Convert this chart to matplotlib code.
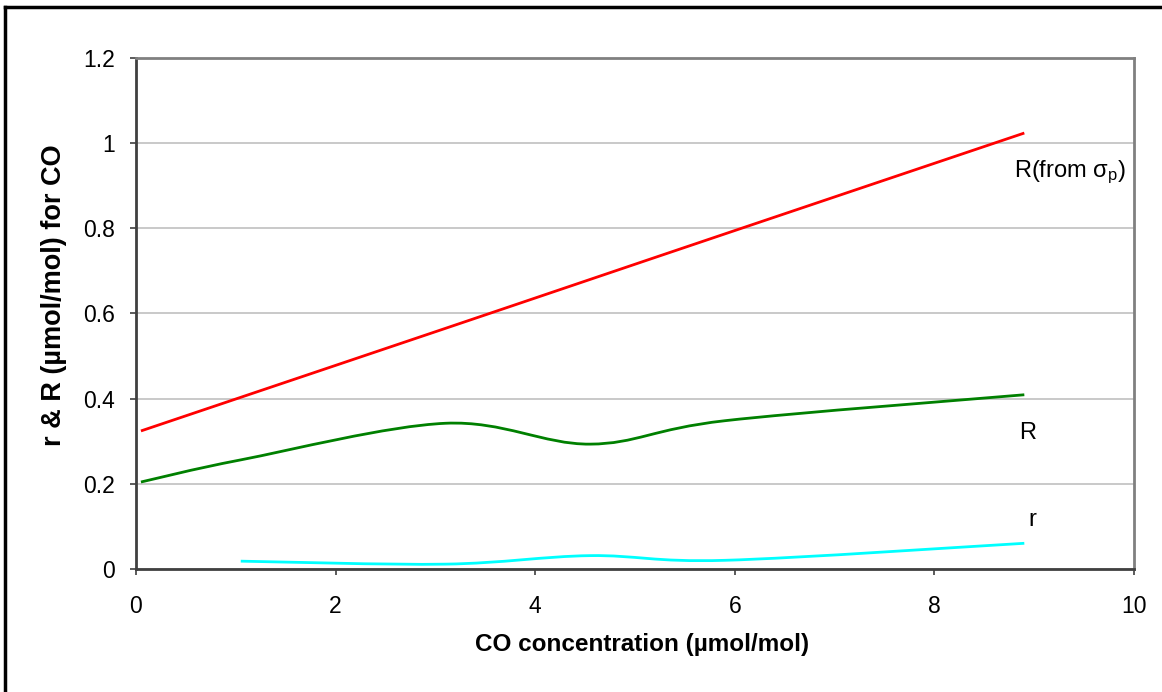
import numpy as np
import matplotlib.pyplot as plt
from matplotlib.path import Path
from matplotlib.patches import PathPatch
from matplotlib.lines import Line2D

plt.rcParams['font.family'] = ['Liberation Sans', 'DejaVu Sans']

# data
conc = [0.05, 1.05, 3.1, 4.55, 5.9, 8.9]
R_sigma = [0.324, 0.403, 0.565, 0.680, 0.787, 1.024]
R_vals = [0.204, 0.256, 0.342, 0.293, 0.348, 0.409]
conc_r = [1.05, 3.1, 4.55, 5.9, 8.9]
r_vals = [0.018, 0.011, 0.031, 0.020, 0.060]

xticks = [0, 2, 4, 6, 8, 10]
yticks = [0, 0.2, 0.4, 0.6, 0.8, 1.0, 1.2]
ytick_labels = ["0", "0.2", "0.4", "0.6", "0.8", "1", "1.2"]


def smooth_path(xs, ys):
    # Excel-style smoothed line: cubic Bezier through every point
    pts = np.column_stack([xs, ys])
    n = len(pts)
    verts = [pts[0]]
    codes = [Path.MOVETO]
    for i in range(n - 1):
        p0 = pts[max(i - 1, 0)]
        p1 = pts[i]
        p2 = pts[i + 1]
        p3 = pts[min(i + 2, n - 1)]
        c1 = p1 + (p2 - p0) / 6.0
        c2 = p2 - (p3 - p1) / 6.0
        verts += [c1, c2, p2]
        codes += [Path.CURVE4] * 3
    return Path(verts, codes)


fig = plt.figure(figsize=(11.62, 6.92), dpi=100)
ax = fig.add_axes([0.117, 0.178, 0.859, 0.738])

for xs, ys, col in [(conc, R_sigma, "#ff0000"), (conc, R_vals, "#008000"), (conc_r, r_vals, "#00ffff")]:
    ax.add_patch(PathPatch(smooth_path(xs, ys), facecolor="none", edgecolor=col, lw=2, zorder=3))

ax.set_xlim(0, 10)
ax.set_ylim(0, 1.2)
ax.set_xticks(xticks)
ax.set_yticks(yticks)
ax.set_yticklabels(ytick_labels)
ax.tick_params(labelsize=16.5, direction="out", length=4, color="#404040", width=1.2)
ax.tick_params(axis="y", pad=11)
ax.tick_params(axis="x", pad=15)
ax.yaxis.grid(True, color="#c0c0c0", lw=1.2)
ax.set_axisbelow(True)
for side in ["top", "right"]:
    ax.spines[side].set_color("#808080")
    ax.spines[side].set_linewidth(2)
for side in ["left", "bottom"]:
    ax.spines[side].set_color("#404040")
    ax.spines[side].set_linewidth(2)

ax.set_xlabel("CO concentration (µmol/mol)", fontsize=17.5, fontweight="bold")
ax.set_ylabel("r & R (µmol/mol) for CO", fontsize=19.5, fontweight="bold")
ax.xaxis.set_label_coords(0.507, -0.125)
ax.yaxis.set_label_coords(-0.069, 0.535)

ax.text(8.8, 0.932, r"R(from $\mathregular{\sigma_p}$)", fontsize=17, va="center", ha="left")
ax.text(8.93, 0.319, "R", fontsize=17, va="center", ha="center")
ax.text(8.98, 0.115, "r", fontsize=17, va="center", ha="center")

# outer chart border (top and left edges visible)
fig.add_artist(Line2D([5 / 1162, 1], [1 - 7 / 692, 1 - 7 / 692], color="black", lw=2.5, transform=fig.transFigure))
fig.add_artist(Line2D([5 / 1162, 5 / 1162], [0, 1 - 7 / 692], color="black", lw=2.5, transform=fig.transFigure))

plt.savefig("out.png", dpi=100)
